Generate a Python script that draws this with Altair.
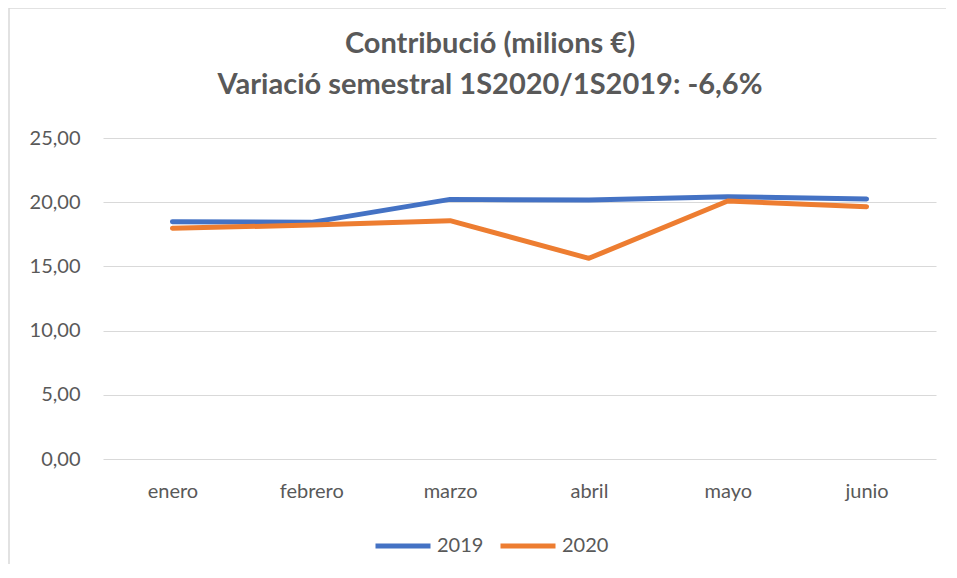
import altair as alt
import pandas as pd

months = ["enero", "febrero", "marzo", "abril", "mayo", "junio"]
v2019 = [18.48, 18.43, 20.22, 20.17, 20.43, 20.25]
v2020 = [17.97, 18.22, 18.56, 15.63, 20.09, 19.65]
series = ["2019", "2020"]
colors = ["#4472C4", "#ED7D31"]
title_lines = ["Contribució (milions €)", "Variació semestral 1S2020/1S2019: -6,6%"]

rows = []
for m, a, b in zip(months, v2019, v2020):
    rows.append({"mes": m, "serie": "2019", "valor": a})
    rows.append({"mes": m, "serie": "2020", "valor": b})
df = pd.DataFrame(rows)

FONT = "Lato"
TXT = "#595959"
GRID = "#D9D9D9"
W, H = 833, 321

lines = alt.Chart(df).mark_line(strokeWidth=5, strokeCap="round", strokeJoin="round").encode(
    x=alt.X("mes:N", sort=months, title=None,
            scale=alt.Scale(type="point", padding=0.5),
            axis=alt.Axis(labelAngle=0, ticks=False, domain=False, labelPadding=22,
                          labelFontSize=20, labelColor=TXT, labelFont=FONT)),
    y=alt.Y("valor:Q", title=None,
            scale=alt.Scale(domain=[0, 25], nice=False),
            axis=alt.Axis(values=[0, 5, 10, 15, 20, 25], ticks=False, domain=False,
                          grid=True, gridColor=GRID, gridWidth=1,
                          labelPadding=23, labelFontSize=20, labelColor=TXT, labelFont=FONT,
                          labelExpr="replace(format(datum.value, '.2f'), '.', ',')")),
    color=alt.Color("serie:N", title=None,
                    scale=alt.Scale(domain=series, range=colors),
                    legend=alt.Legend(orient="none", direction="horizontal",
                                      legendX=270, legendY=378,
                                      symbolType="stroke", symbolSize=3025,
                                      symbolStrokeWidth=5, labelFontSize=20,
                                      labelColor=TXT, labelFont=FONT, labelOffset=4,
                                      columnPadding=6, padding=0)),
)

frame_v = alt.Chart(alt.Data(values=[{"k": 1}])).mark_rule(color=GRID, strokeWidth=1.5).encode(
    x=alt.value(-94), y=alt.value(-130), y2=alt.value(H + 110))
frame_h = alt.Chart(alt.Data(values=[{"k": 1}])).mark_rule(color=GRID, strokeWidth=1.5).encode(
    x=alt.value(-94), x2=alt.value(W + 20), y=alt.value(-130))

chart = alt.layer(frame_v, frame_h, lines).properties(
    width=W, height=H,
    background="white",
    title=alt.TitleParams(text=title_lines, fontSize=29, font=FONT, fontWeight="bold",
                          color=TXT, anchor="middle", frame="group", dx=-29.5,
                          baseline="bottom", lineHeight=41, offset=-122),
    autosize=alt.AutoSizeParams(type="none"),
    padding={"left": 95, "top": 130, "right": 10, "bottom": 105},
).configure_view(stroke=None)

chart.save("out.html", embed_options={"renderer": "svg", "actions": False})
